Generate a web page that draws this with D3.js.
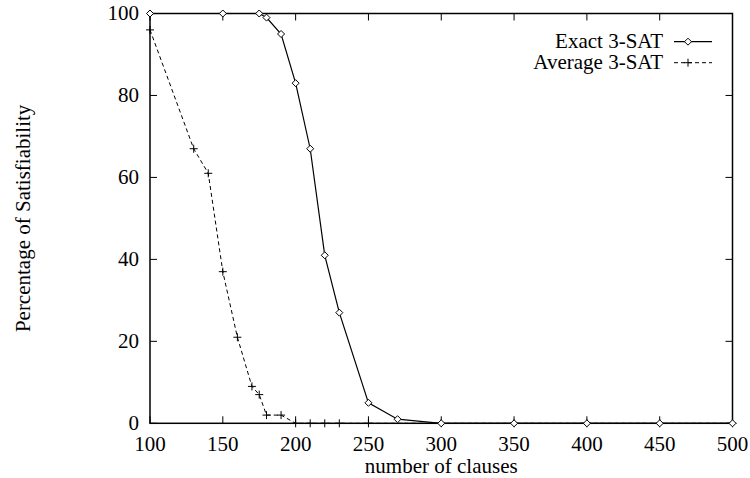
<!DOCTYPE html>
<html>
<head>
<meta charset="utf-8">
<script src="https://cdn.jsdelivr.net/npm/d3@7"></script>
<style>
  body { margin: 0; background: #fff; }
  text { font-family: "Liberation Serif", "Times New Roman", serif; fill: #000; }
</style>
</head>
<body>
<svg id="chart" width="750" height="478"></svg>
<script>
// number of clauses vs. percentage satisfiable
var exactX = [100, 150, 175, 180, 190, 200, 210, 220, 230, 250, 270, 300, 350, 400, 450, 500];
var exactY = [100, 100, 100, 99, 95, 83, 67, 41, 27, 5, 1, 0, 0, 0, 0, 0];
var avgX = [100, 130, 140, 150, 160, 170, 175, 180, 190, 200, 210, 220, 230, 250, 300, 350, 400, 450, 500];
var avgY = [96, 67, 61, 37, 21, 9, 7, 2, 2, 0, 0, 0, 0, 0, 0, 0, 0, 0, 0];
var xTicks = [100, 150, 200, 250, 300, 350, 400, 450, 500];
var yTicks = [0, 20, 40, 60, 80, 100];

(function () {
    var svg = d3.select("#chart");
    var pLeft = 150, pRight = 732.5, pTop = 13.5, pBottom = 423.3;
    var x = d3.scaleLinear().domain([100, 500]).range([pLeft, pRight]);
    var y = d3.scaleLinear().domain([0, 100]).range([pBottom, pTop]);
    var tick = 7;
    var fs = "21px";

    // ticks, inward on all sides (gnuplot style)
    var g = svg.append("g").attr("stroke", "#000").attr("stroke-width", 1);
    xTicks.forEach(function (v) {
        g.append("line").attr("x1", x(v)).attr("x2", x(v)).attr("y1", pBottom).attr("y2", pBottom - tick);
        g.append("line").attr("x1", x(v)).attr("x2", x(v)).attr("y1", pTop).attr("y2", pTop + tick);
    });
    yTicks.forEach(function (v) {
        g.append("line").attr("x1", pLeft).attr("x2", pLeft + tick).attr("y1", y(v)).attr("y2", y(v));
        g.append("line").attr("x1", pRight).attr("x2", pRight - tick).attr("y1", y(v)).attr("y2", y(v));
    });

    svg.selectAll(".xl").data(xTicks).enter().append("text")
        .attr("x", function (d) { return x(d); })
        .attr("y", 451)
        .attr("text-anchor", "middle")
        .style("font-size", fs)
        .text(function (d) { return d; });

    svg.selectAll(".yl").data(yTicks).enter().append("text")
        .attr("x", 139)
        .attr("y", function (d) { return y(d) + 6.5; })
        .attr("text-anchor", "end")
        .style("font-size", fs)
        .text(function (d) { return d; });

    svg.append("text")
        .attr("x", (pLeft + pRight) / 2).attr("y", 473)
        .attr("text-anchor", "middle")
        .style("font-size", fs)
        .text("number of clauses");

    svg.append("text")
        .attr("transform", "translate(30," + ((pTop + pBottom) / 2) + ") rotate(-90)")
        .attr("text-anchor", "middle")
        .style("font-size", fs)
        .text("Percentage of Satisfiability");

    // border
    svg.append("rect")
        .attr("x", pLeft).attr("y", pTop)
        .attr("width", pRight - pLeft).attr("height", pBottom - pTop)
        .attr("fill", "none").attr("stroke", "#000").attr("stroke-width", 1.5);

    var line = d3.line().x(function (d) { return x(d[0]); }).y(function (d) { return y(d[1]); });
    var exact = d3.zip(exactX, exactY);
    var avg = d3.zip(avgX, avgY);

    function diamond(sel, cx, cy) {
        var r = 3.5;
        sel.append("path")
            .attr("d", "M" + cx + "," + (cy - r) + "L" + (cx + r) + "," + cy + "L" + cx + "," + (cy + r) + "L" + (cx - r) + "," + cy + "Z")
            .attr("fill", "#fff").attr("stroke", "#000").attr("stroke-width", 1);
    }
    function plus(sel, cx, cy) {
        var r = 4;
        sel.append("path")
            .attr("d", "M" + (cx - r) + "," + cy + "H" + (cx + r) + "M" + cx + "," + (cy - r) + "V" + (cy + r))
            .attr("stroke", "#000").attr("stroke-width", 1);
    }

    svg.append("path").datum(avg).attr("d", line)
        .attr("fill", "none").attr("stroke", "#000").attr("stroke-width", 1).attr("stroke-dasharray", "4,3");
    svg.append("path").datum(exact).attr("d", line)
        .attr("fill", "none").attr("stroke", "#000").attr("stroke-width", 1.2);

    var marks = svg.append("g");
    avg.forEach(function (d) { plus(marks, x(d[0]), y(d[1])); });
    exact.forEach(function (d) { diamond(marks, x(d[0]), y(d[1])); });

    // legend
    var leg = svg.append("g");
    leg.append("text").attr("x", 663).attr("y", 48).attr("text-anchor", "end").style("font-size", fs).text("Exact 3-SAT");
    leg.append("text").attr("x", 663).attr("y", 69).attr("text-anchor", "end").style("font-size", fs).text("Average 3-SAT");
    leg.append("line").attr("x1", 674).attr("x2", 712).attr("y1", 41.7).attr("y2", 41.7).attr("stroke", "#000").attr("stroke-width", 1.2);
    leg.append("line").attr("x1", 674).attr("x2", 712).attr("y1", 62.7).attr("y2", 62.7).attr("stroke", "#000").attr("stroke-width", 1).attr("stroke-dasharray", "4,3");
    diamond(leg, 688, 41.7);
    plus(leg, 688, 62.7);
})();
</script>
</body>
</html>
